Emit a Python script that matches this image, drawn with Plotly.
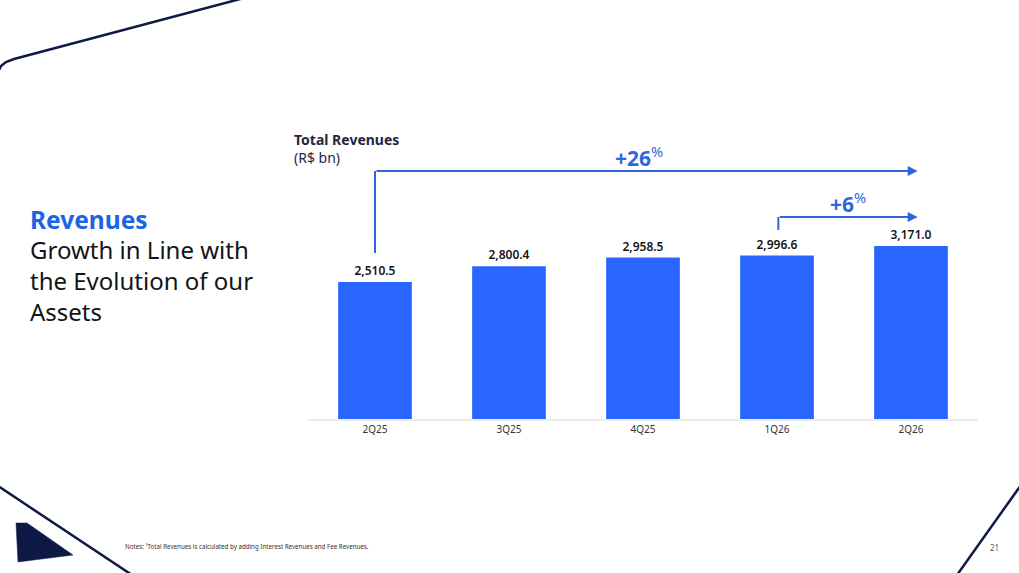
import plotly.graph_objects as go

quarters = ["2Q25", "3Q25", "4Q25", "1Q26", "2Q26"]
revenues = [2510.5, 2800.4, 2958.5, 2996.6, 3171.0]
labels = ["2,510.5", "2,800.4", "2,958.5", "2,996.6", "3,171.0"]
growth_labels = ["+26", "+6"]

BAR = "#2866FF"
ARROW = "#2F66DD"
NAVY = "#0E1A45"
FONT = "Noto Sans"

W, H = 1019, 573
ML, MR, MT, MB = 308, 41, 140, 154
YMAX = 5114

fig = go.Figure()
fig.add_trace(go.Bar(
    x=quarters, y=revenues, width=0.55,
    marker=dict(color=BAR, line=dict(width=0)),
    text=labels, textposition="outside", cliponaxis=False,
    textfont=dict(family=FONT, size=12, color="#141420", weight=600),
    hoverinfo="skip",
))

# Long arrow (+26%): from 2Q25 to beyond 2Q26
fig.add_shape(type="line", xref="x", yref="y", x0=0, x1=0, y0=3042, y1=4545,
              line=dict(color=ARROW, width=2))
fig.add_annotation(xref="x", yref="y", axref="x", ayref="y", x=4.05, y=4545, ax=0, ay=4545,
                   showarrow=True, arrowhead=2, arrowsize=1, arrowwidth=2, arrowcolor=ARROW, text="")
# Short arrow (+6%): from 1Q26 to beyond 2Q26
fig.add_shape(type="line", xref="x", yref="y", x0=3.01, x1=3.01, y0=3464, y1=3702,
              line=dict(color=ARROW, width=2))
fig.add_annotation(xref="x", yref="y", axref="x", ayref="y", x=4.05, y=3702, ax=3.01, ay=3702,
                   showarrow=True, arrowhead=2, arrowsize=1, arrowwidth=2, arrowcolor=ARROW, text="")

fig.add_annotation(xref="x", yref="y", x=1.97, y=4545, yshift=15, showarrow=False,
                   text=f"<b>{growth_labels[0]}</b><sup>%</sup>",
                   font=dict(family=FONT, size=21, color=ARROW))
fig.add_annotation(xref="x", yref="y", x=3.53, y=3702, yshift=15, showarrow=False,
                   text=f"<b>{growth_labels[1]}</b><sup>%</sup>",
                   font=dict(family=FONT, size=21, color=ARROW))


def px_to_paper(xp, yp):
    return (xp - ML) / (W - ML - MR), (H - MB - yp) / (H - MT - MB)


# Chart title
for txt, yp in [("<b>Total Revenues</b>", 139), ("(R$ bn)", 157)]:
    xp, ypp = px_to_paper(292, yp)
    fig.add_annotation(xref="paper", yref="paper", x=xp, y=ypp, xanchor="left", yanchor="middle",
                       showarrow=False, text=txt, font=dict(family=FONT, size=14, color="#1F2740"))

# Left heading
for txt, yp, size, color, bold in [
    ("Revenues", 219, 24.5, "#1D63E6", True),
    ("Growth in Line with", 249, 24, "#141414", False),
    ("the Evolution of our", 280, 24, "#141414", False),
    ("Assets", 311, 24, "#141414", False),
]:
    xp, ypp = px_to_paper(28, yp)
    fig.add_annotation(xref="paper", yref="paper", x=xp, y=ypp, xanchor="left", yanchor="middle",
                       showarrow=False, text=f"<b>{txt}</b>" if bold else txt,
                       font=dict(family=FONT, size=size, color=color))

# Footnote and page number
xp, ypp = px_to_paper(123, 546)
fig.add_annotation(xref="paper", yref="paper", x=xp, y=ypp, xanchor="left", yanchor="middle", showarrow=False,
                   text="Notes: ¹Total Revenues is calculated by adding Interest Revenues and Fee Revenues.",
                   font=dict(family=FONT, size=6.2, color="#333333"))
xp, ypp = px_to_paper(994, 547)
fig.add_annotation(xref="paper", yref="paper", x=xp, y=ypp, xanchor="center", yanchor="middle", showarrow=False,
                   text="21", font=dict(family=FONT, size=8, color="#555555"))


def path(points, close=False):
    s = ""
    for i, (xp, yp) in enumerate(points):
        a, b = px_to_paper(xp, yp)
        s += ("M" if i == 0 else " L") + f" {a:.5f} {b:.5f}"
    if close:
        s += " Z"
    return s


fig.add_shape(type="path", xref="paper", yref="paper",
              path=path([(-2, 72), (1, 66), (6, 62), (14, 59), (244, -2)]),
              line=dict(color=NAVY, width=2.5), layer="above")
fig.add_shape(type="path", xref="paper", yref="paper",
              path=path([(-2, 486), (132, 575)]),
              line=dict(color=NAVY, width=2.5), layer="above")
fig.add_shape(type="path", xref="paper", yref="paper",
              path=path([(1021, 485), (957, 575)]),
              line=dict(color=NAVY, width=2.5), layer="above")
fig.add_shape(type="path", xref="paper", yref="paper",
              path=path([(16, 523), (27, 523), (73, 555), (18, 562)], close=True),
              fillcolor=NAVY, line=dict(color=NAVY, width=0.5), layer="above")

fig.update_layout(
    width=W, height=H,
    margin=dict(l=ML, r=MR, t=MT, b=MB, pad=0),
    paper_bgcolor="white", plot_bgcolor="white",
    showlegend=False,
    xaxis=dict(type="category", showgrid=False, zeroline=False, showline=True,
               linecolor="#EBEBEB", linewidth=1.5, ticks="",
               tickfont=dict(family=FONT, size=10, color="#333333")),
    yaxis=dict(range=[0, YMAX], visible=False, showgrid=False, zeroline=False),
)

fig.write_html("out.html", config={"displayModeBar": False},
               post_script="document.body.style.margin='0';document.body.style.overflow='hidden';")
